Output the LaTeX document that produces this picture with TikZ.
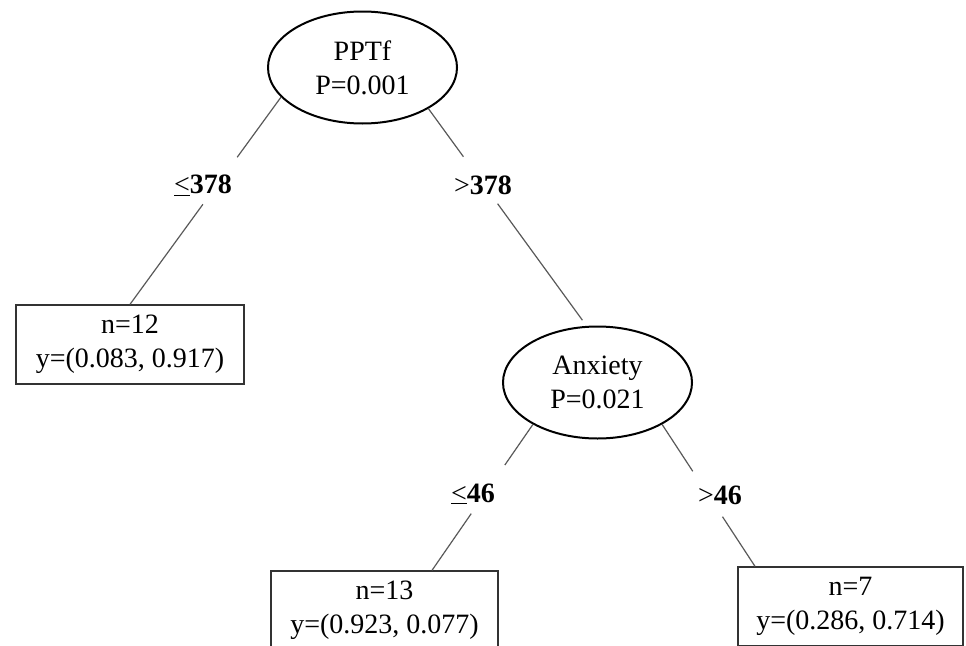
\documentclass[tikz,border=0pt]{standalone}
\usepackage{fontspec}
\setmainfont{Liberation Serif}
\usetikzlibrary{shapes.geometric,calc}
\begin{document}
\begin{tikzpicture}[x=1pt,y=-1pt,
  every node/.style={font=\fontsize{28}{34}\selectfont, align=center},
  split/.style={shape=ellipse, draw=black, line width=2pt, minimum width=189pt, minimum height=112pt, inner sep=0pt},
  leaf/.style={draw=black!80, line width=1.3pt, minimum height=79pt, inner sep=0pt},
  conn/.style={draw=black!65, line width=1.2pt},
  lbl/.style={inner sep=0pt}]
\useasboundingbox (0,0) rectangle (966,645);
\clip (0,0) rectangle (966,645);
% split nodes
\node[split] (pptf) at (362.5,67.5) {PPTf\\P=0.001};
\node[split] (anx) at (597.5,382.5) {Anxiety\\P=0.021};
% leaves
\node[leaf, minimum width=228pt] (b1) at (130,344.5) {n=12\\y=(0.083, 0.917)};
\node[leaf, minimum width=227pt] (b2) at (384.5,610.5) {n=13\\y=(0.923, 0.077)};
\node[leaf, minimum width=225pt] (b3) at (850.5,606.5) {n=7\\y=(0.286, 0.714)};
% labels
\node[lbl] (l1) at (203,185) {\underline{<}\textbf{378}};
\node[lbl] (l2) at (483,185) {>\textbf{378}};
\node[lbl] (l3) at (473,494) {\underline{<}\textbf{46}};
\node[lbl] (l4) at (720,495) {>\textbf{46}};
% connector ends
\coordinate (a1) at (pptf.200);
\coordinate (a2) at (pptf.328);
\coordinate (e2) at ([yshift=6pt]anx.105);
\coordinate (a3) at (anx.213);
\coordinate (a4) at (anx.327);
\coordinate (e3) at ([xshift=47.5pt]b2.north);
\coordinate (e4) at ([xshift=-95.5pt]b3.north);
% connectors (broken around labels)
\draw[conn] (a1) -- ($(a1)!0.29!(b1.north)$) ($(a1)!0.517!(b1.north)$) -- (b1.north);
\draw[conn] (a2) -- ($(a2)!0.227!(e2)$) ($(a2)!0.449!(e2)$) -- (e2);
\draw[conn] (a3) -- ($(a3)!0.278!(e3)$) ($(a3)!0.611!(e3)$) -- (e3);
\draw[conn] (a4) -- ($(a4)!0.33!(e4)$) ($(a4)!0.65!(e4)$) -- (e4);
\end{tikzpicture}
\end{document}
